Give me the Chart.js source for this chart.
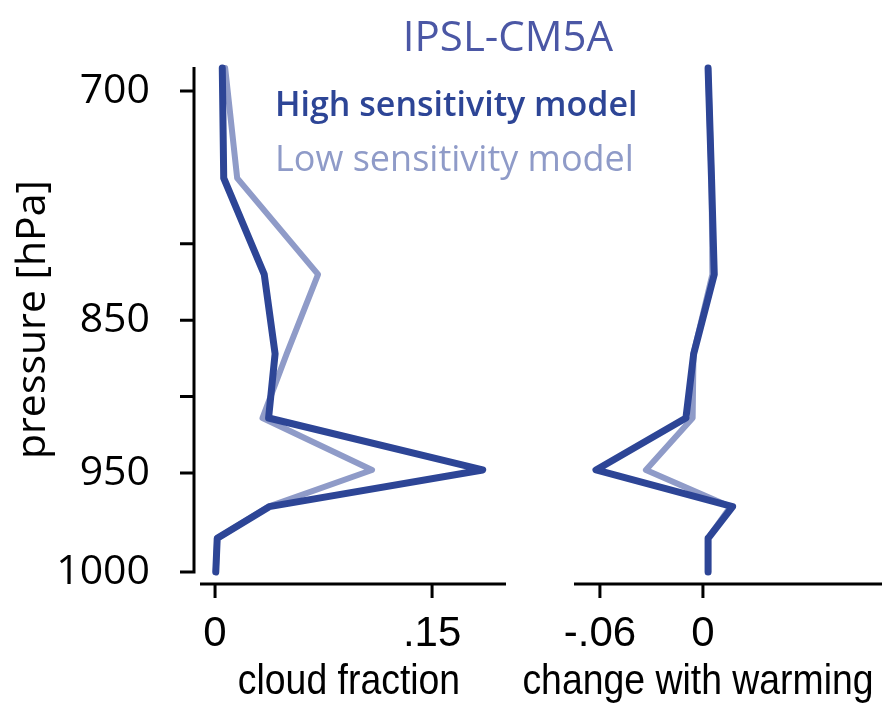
<!DOCTYPE html>
<html>
<head>
<meta charset="utf-8">
<script src="https://cdn.jsdelivr.net/npm/chart.js@4.4.1/dist/chart.umd.min.js"></script>
<style>
  html, body { margin: 0; padding: 0; background: #fff; }
  #wrap { position: relative; width: 882px; height: 704px; }
  #wrap canvas { position: absolute; left: 0; top: 0; }
</style>
</head>
<body>
<div id="wrap">
  <canvas id="cloud" width="882" height="704"></canvas>
  <canvas id="change" width="882" height="704"></canvas>
</div>
<script>
// Model levels (hPa) and profiles for the two IPSL-CM5A variants
const pressureLevels = [685, 757, 820, 872, 914, 948, 967, 983, 1000];
const cloudHigh  = [0.005, 0.006, 0.034, 0.0415, 0.037, 0.185, 0.0375, 0.0015, 0.0005];
const cloudLow   = [0.007, 0.0153, 0.0712, 0.0495, 0.0328, 0.1085, 0.037, 0.0015, 0.0005];
const changeHigh = [0.003, 0.005, 0.0066, -0.0054, -0.0099, -0.0623, 0.0173, 0.003, 0.003];
const changeLow  = [0.003, 0.005, 0.0055, -0.0055, -0.006, -0.0332, 0.016, 0.003, 0.003];

const seriesNames = ['High sensitivity model', 'Low sensitivity model'];
const pressureTicks  = [700, 800, 850, 900, 950, 1000];
const pressureLabels = ['700', '', '850', '', '950', '1000'];
const cloudTicks  = [0, 0.15];
const changeTicks = [-0.06, 0];

const DARK = '#2d4596';
const LIGHT = '#8f9bc8';
const NARROW = '"Liberation Sans", Arial, sans-serif';

// Pressure axis: piecewise-linear in pressure, the lowest layer is stretched
class PressureScale extends Chart.LinearScale {
  static id = 'pressure';
  static defaults = {};
  _toDecimal(v) {
    const k = this.options.knots;
    if (v <= k[0][0]) return k[0][1] + (v - k[0][0]) * (k[1][1] - k[0][1]) / (k[1][0] - k[0][0]);
    for (let i = 1; i < k.length; i++) {
      if (v <= k[i][0] || i === k.length - 1) {
        const [p0, d0] = k[i - 1], [p1, d1] = k[i];
        return d0 + (v - p0) * (d1 - d0) / (p1 - p0);
      }
    }
  }
  getPixelForValue(value) {
    if (value === null || value === undefined) return NaN;
    return this.getPixelForDecimal(this._toDecimal(value));
  }
  getValueForPixel(pixel) {
    const d = this.getDecimalForPixel(pixel);
    const k = this.options.knots;
    for (let i = 1; i < k.length; i++) {
      if (d <= k[i][1] || i === k.length - 1) {
        const [p0, d0] = k[i - 1], [p1, d1] = k[i];
        return p0 + (d - d0) * (p1 - p0) / (d1 - d0);
      }
    }
  }
}
Chart.register(PressureScale);

const fmt = v => (v === 0 ? '0' : String(v).replace('0.', '.'));

// Offset axis lines with outward tick marks, plus the x-axis caption
const spines = {
  id: 'spines',
  afterDraw(chart, args, opts) {
    const { ctx, chartArea: a, scales } = chart;
    ctx.save();
    ctx.strokeStyle = '#000';
    ctx.lineWidth = opts.width;
    ctx.lineCap = 'butt';
    if (opts.showY) {
      const x0 = a.left - opts.yGap;
      ctx.beginPath();
      ctx.moveTo(x0, a.top);
      ctx.lineTo(x0, a.bottom + opts.width / 2);
      scales.y.ticks.forEach(t => {
        const py = scales.y.getPixelForValue(t.value);
        ctx.moveTo(x0 - opts.tickLen, py);
        ctx.lineTo(x0, py);
      });
      ctx.stroke();
    }
    const y0 = a.bottom + opts.xGap;
    ctx.beginPath();
    ctx.moveTo(a.left, y0);
    ctx.lineTo(a.right, y0);
    scales.x.ticks.forEach(t => {
      const px = scales.x.getPixelForValue(t.value);
      ctx.moveTo(px, y0);
      ctx.lineTo(px, y0 + opts.tickLen);
    });
    ctx.stroke();

    if (opts.caption) {
      // condensed lettering: squeeze the glyphs horizontally
      ctx.translate(opts.captionX, opts.captionY);
      ctx.scale(opts.captionSqueeze, 1);
      ctx.fillStyle = '#000';
      ctx.font = opts.captionFont;
      ctx.textAlign = 'center';
      ctx.textBaseline = 'alphabetic';
      ctx.fillText(opts.caption, 0, 0);
    }
    ctx.restore();
  }
};

// Panel heading and coloured series names
const captions = {
  id: 'captions',
  afterDraw(chart, args, opts) {
    const { ctx } = chart;
    ctx.save();
    ctx.fillStyle = opts.titleColor;
    ctx.font = '42px "Open Sans"';
    ctx.textAlign = 'center';
    ctx.textBaseline = 'alphabetic';
    ctx.fillText(opts.title, opts.titleX, opts.titleY);
    ctx.textAlign = 'left';
    chart.data.datasets.forEach((ds, i) => {
      ctx.font = (i === 0 ? '600 34px' : '400 36px') + ' "Open Sans"';
      ctx.fillStyle = ds.borderColor;
      ctx.fillText(ds.label, opts.legendX, opts.legendY + i * opts.legendStep);
    });
    ctx.restore();
  }
};

function lineSet(label, xs, color, width, order) {
  return {
    label,
    data: pressureLevels.map((p, i) => ({ x: xs[i], y: p })),
    borderColor: color,
    borderWidth: width,
    borderJoinStyle: 'round',
    borderCapStyle: 'round',
    pointRadius: 0,
    tension: 0,
    clip: false,
    order
  };
}

const noPad = s => { s.paddingTop = 0; s.paddingBottom = 0; s.paddingLeft = 0; s.paddingRight = 0; };

const yScaleBase = {
  type: 'pressure',
  min: 684.3,
  max: 1000,
  reverse: true,
  knots: [[684.3, 0], [950, 0.804], [1000, 1]],
  afterBuildTicks: s => { s.ticks = pressureTicks.map(v => ({ value: v })); },
  grid: { display: false, drawTicks: false },
  border: { display: false }
};

function xScale(min, max, tickVals) {
  return {
    type: 'linear',
    min, max,
    afterBuildTicks: s => { s.ticks = tickVals.map(v => ({ value: v })); },
    afterFit: s => { s.height = 132; noPad(s); },
    grid: { display: false, drawTicks: false },
    border: { display: false },
    ticks: {
      autoSkip: false,
      maxRotation: 0,
      padding: 37,
      color: '#000',
      font: { family: NARROW, size: 42 },
      callback: v => fmt(v)
    },
    title: { display: false }
  };
}

const common = {
  responsive: false,
  animation: false,
  devicePixelRatio: 1,
  indexAxis: 'y',
  events: []
};

new Chart(document.getElementById('cloud'), {
  type: 'line',
  data: {
    datasets: [
      lineSet(seriesNames[0], cloudHigh, DARK, 7, 0),
      lineSet(seriesNames[1], cloudLow, LIGHT, 6, 1)
    ]
  },
  options: {
    ...common,
    layout: { padding: { left: 0, top: 67, right: 376, bottom: 0 } },
    scales: {
      x: xScale(-0.0104, 0.2011, cloudTicks),
      y: {
        ...yScaleBase,
        afterFit: s => { s.width = 200; noPad(s); },
        ticks: {
          autoSkip: false,
          padding: 50,
          color: '#000',
          font: { family: '"Open Sans", sans-serif', size: 41 },
          callback: (v, i) => pressureLabels[i]
        },
        title: {
          display: true,
          text: 'pressure [hPa]',
          color: '#000',
          padding: { top: 9, bottom: 0 },
          font: { family: '"Open Sans", sans-serif', size: 41 }
        }
      }
    },
    plugins: {
      legend: { display: false },
      tooltip: { enabled: false },
      spines: {
        width: 3, tickLen: 14, yGap: 6, xGap: 12, showY: true,
        caption: 'cloud fraction', captionFont: '42px ' + NARROW, captionSqueeze: 0.89,
        captionX: 349, captionY: 694
      },
      captions: {
        title: 'IPSL-CM5A', titleX: 508, titleY: 51, titleColor: '#4b57a5',
        legendX: 275, legendY: 116, legendStep: 55
      }
    }
  },
  plugins: [spines, captions]
});

new Chart(document.getElementById('change'), {
  type: 'line',
  data: {
    datasets: [
      lineSet(seriesNames[0], changeHigh, DARK, 7, 0),
      lineSet(seriesNames[1], changeLow, LIGHT, 6, 1)
    ]
  },
  options: {
    ...common,
    layout: { padding: { left: 574, top: 67, right: 0, bottom: 0 } },
    scales: {
      x: xScale(-0.0751, 0.1043, changeTicks),
      y: { ...yScaleBase, display: false }
    },
    plugins: {
      legend: { display: false },
      tooltip: { enabled: false },
      spines: {
        width: 3, tickLen: 14, yGap: 6, xGap: 12, showY: false,
        caption: 'change with warming', captionFont: '42px ' + NARROW, captionSqueeze: 0.89,
        captionX: 698, captionY: 694
      }
    }
  },
  plugins: [spines]
});
</script>
</body>
</html>
